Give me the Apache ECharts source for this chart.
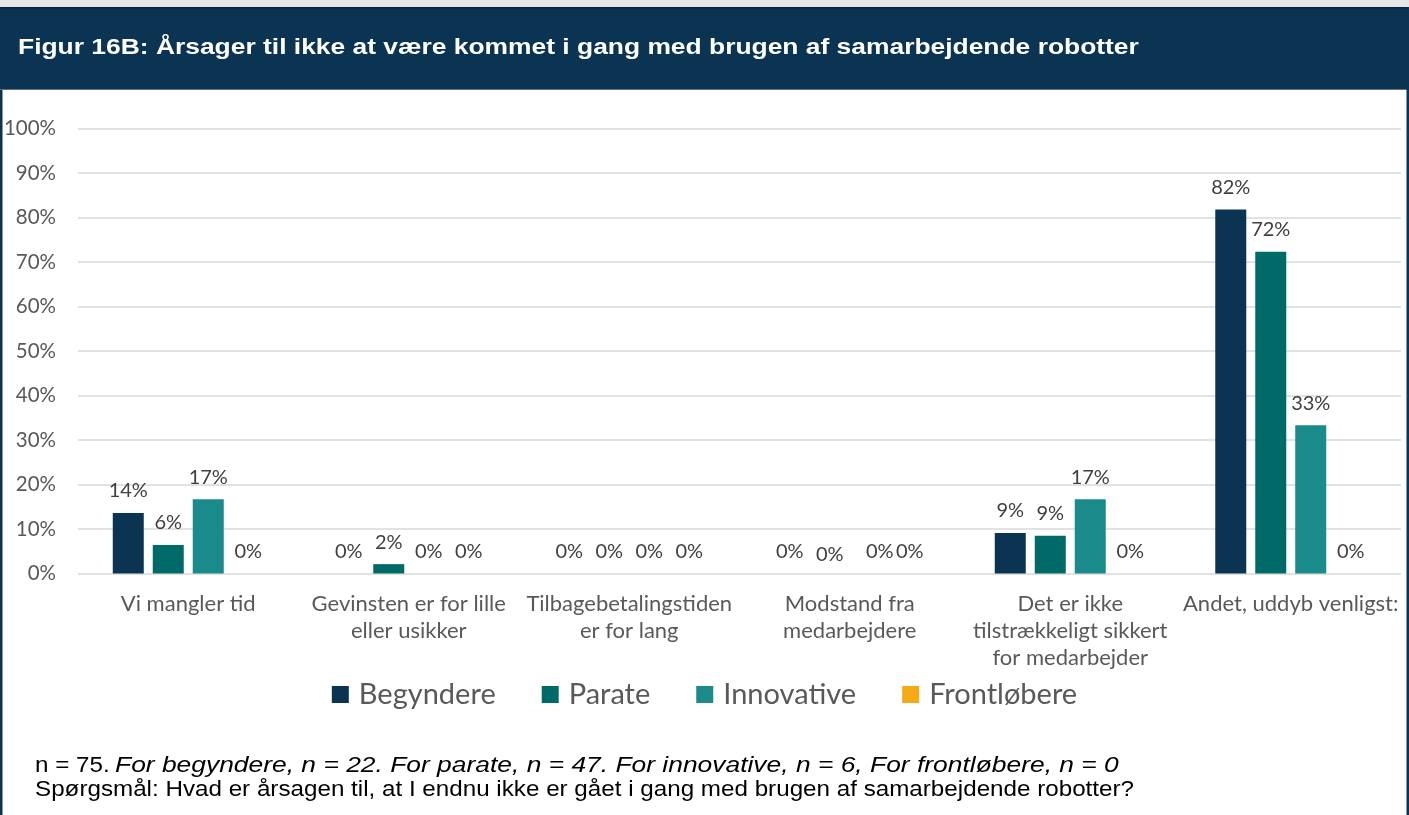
<!DOCTYPE html>
<html>
<head>
<meta charset="utf-8">
<title>Figur 16B</title>
<script src="https://cdn.jsdelivr.net/npm/echarts@6/dist/echarts.min.js"></script>
<style>
  html, body { margin: 0; padding: 0; background: #fff; }
  #chart { width: 1409px; height: 815px; }
</style>
</head>
<body>
<div id="chart"></div>
<script>
// data (percent of respondents)
var categories = [
    'Vi mangler tid',
    'Gevinsten er for lille\neller usikker',
    'Tilbagebetalingstiden\ner for lang',
    'Modstand fra\nmedarbejdere',
    'Det er ikke\ntilstrækkeligt sikkert\nfor medarbejder',
    'Andet, uddyb venligst:'
];
var seriesNames = ['Begyndere', 'Parate', 'Innovative', 'Frontløbere'];
var begyndere   = [13.6, 0,   0, 0, 9.1, 81.8];
var parate      = [6.4,  2.1, 0, 0, 8.5, 72.3];
var innovative  = [16.7, 0,   0, 0, 16.7, 33.3];
var frontlobere = [0,    0,   0, 0, 0,   0];
var yTicks = [0, 10, 20, 30, 40, 50, 60, 70, 80, 90, 100];

var titleText = 'Figur 16B: Årsager til ikke at være kommet i gang med brugen af samarbejdende robotter';
var noteLead = 'n = 75.';
var noteItalic = 'For begyndere, n = 22. For parate, n = 47. For innovative, n = 6, For frontløbere, n = 0';
var question = 'Spørgsmål: Hvad er årsagen til, at I endnu ikke er gået i gang med brugen af samarbejdende robotter?';

var colors = ['#0b3352', '#006a69', '#1a8a8a', '#f5a917'];
var navy = '#0b3352';
var labelFont = 'Lato, "Open Sans", sans-serif';
var arial = '"Liberation Sans", Arial, sans-serif';

var chart = echarts.init(document.getElementById('chart'));

function makeSeries(name, values, idx) {
    var data = values.map(function (v, i) {
        var item = { value: v };
        // the odd label placement in the "Modstand fra medarbejdere" group
        if (i === 3 && idx === 1) item.label = { offset: [0, 3] };
        if (i === 3 && idx === 2) item.label = { offset: [10, 0] };
        return item;
    });
    return {
        name: name,
        type: 'bar',
        data: data,
        barWidth: 31,
        barGap: '29%',
        itemStyle: { color: colors[idx] },
        label: {
            show: true,
            position: 'top',
            distance: 12,
            fontFamily: labelFont,
            fontSize: 20,
            color: '#404040',
            formatter: function (p) { return Math.round(p.value) + '%'; }
        }
    };
}

function noteText(x, y, sx, text, italic) {
    return {
        type: 'text', x: x, y: y, scaleX: sx,
        style: {
            text: text,
            fill: '#000000',
            verticalAlign: 'top',
            font: (italic ? 'italic ' : '') + '22px ' + arial,
            lineHeight: 24
        }
    };
}

var option = {
    animation: false,
    color: colors,
    textStyle: { fontFamily: labelFont },
    graphic: [
        { type: 'rect', shape: { x: 0, y: 0, width: 1409, height: 7 }, style: { fill: '#e6e6e6' } },
        { type: 'rect', shape: { x: 0, y: 7, width: 1409, height: 83 }, style: { fill: navy } },
        { type: 'rect', shape: { x: 0, y: 7, width: 1409, height: 1.5 }, style: { fill: '#06243a' } },
        { type: 'rect', shape: { x: 0, y: 89, width: 1409, height: 1 }, style: { fill: '#5d7385' } },
        { type: 'rect', shape: { x: 0, y: 90, width: 2.5, height: 725 }, style: { fill: navy } },
        { type: 'rect', shape: { x: 1406.5, y: 7, width: 2.5, height: 808 }, style: { fill: navy } },
        {
            // the reference text is drawn a little wider than the font, hence scaleX
            type: 'text', x: 18, y: 47.5, scaleX: 1.2,
            style: {
                text: titleText,
                fill: '#ffffff',
                font: 'bold 22px ' + arial,
                verticalAlign: 'middle'
            }
        },
        noteText(35, 754, 1.1, noteLead, false),
        noteText(115, 754, 1.2, noteItalic, true),
        noteText(35, 778, 1.1, question, false)
    ],
    legend: {
        data: seriesNames,
        left: 'center',
        top: 675,
        itemWidth: 17,
        itemHeight: 17,
        itemGap: 46,
        icon: 'rect',
        textStyle: { fontFamily: labelFont, fontSize: 29, color: '#595959', padding: [0, 0, 0, 5] }
    },
    grid: { left: 78, right: 8, top: 128.5, bottom: 241.5, containLabel: false },
    xAxis: {
        type: 'category',
        data: categories,
        axisLine: { show: false },
        axisTick: { show: false },
        axisLabel: {
            interval: 0,
            margin: 17,
            fontFamily: labelFont,
            fontSize: 22,
            lineHeight: 27,
            color: '#595959'
        }
    },
    yAxis: {
        type: 'value',
        min: yTicks[0],
        max: yTicks[yTicks.length - 1],
        interval: yTicks[1] - yTicks[0],
        axisLine: { show: false },
        axisTick: { show: false },
        axisLabel: {
            margin: 22,
            fontFamily: labelFont,
            fontSize: 20.5,
            color: '#595959',
            formatter: '{value}%'
        },
        splitLine: { lineStyle: { color: '#d9d9d9', width: 1.5 } }
    },
    series: [
        makeSeries(seriesNames[0], begyndere, 0),
        makeSeries(seriesNames[1], parate, 1),
        makeSeries(seriesNames[2], innovative, 2),
        makeSeries(seriesNames[3], frontlobere, 3)
    ]
};

chart.setOption(option);
</script>
</body>
</html>
